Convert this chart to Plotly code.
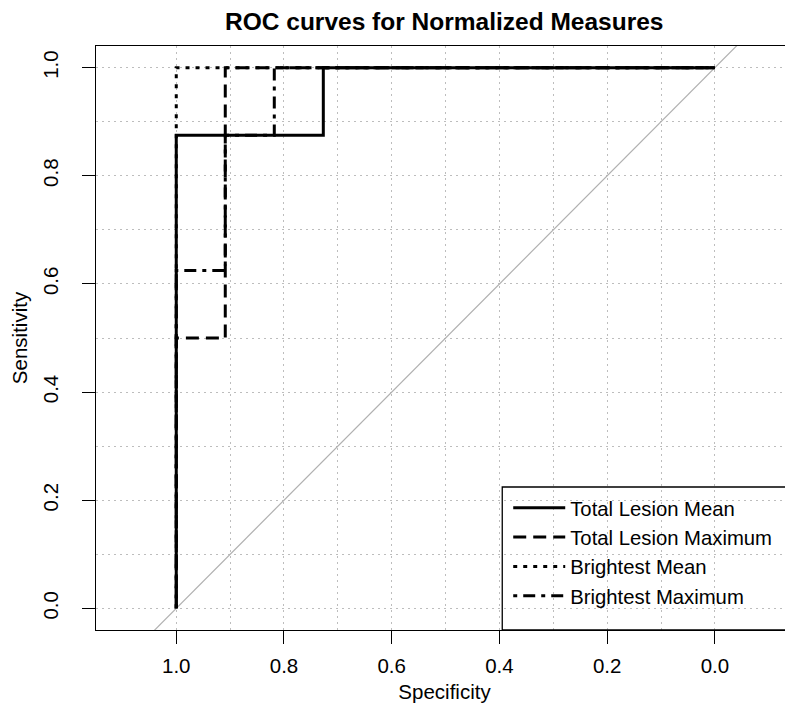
import plotly.graph_objects as go

# ROC step coordinates (specificity, sensitivity)
tlm_spec = [1.0, 1.0, 0.727, 0.727, 0.0]
tlm_sens = [0.0, 0.875, 0.875, 1.0, 1.0]

tlx_spec = [1.0, 1.0, 0.909, 0.909, 0.0]
tlx_sens = [0.0, 0.5, 0.5, 1.0, 1.0]

bm_spec = [1.0, 1.0, 0.0]
bm_sens = [0.0, 1.0, 1.0]

bx_spec = [1.0, 1.0, 0.909, 0.909, 0.818, 0.818, 0.0]
bx_sens = [0.0, 0.625, 0.625, 0.875, 0.875, 1.0, 1.0]

series_names = ["Total Lesion Mean", "Total Lesion Maximum", "Brightest Mean", "Brightest Maximum"]
tick_vals = [0.0, 0.2, 0.4, 0.6, 0.8, 1.0]
grid_minor = [0.1, 0.3, 0.5, 0.7, 0.9]

FONT = "Liberation Sans, Arial, sans-serif"

fig = go.Figure()

# chance diagonal (sensitivity = 1 - specificity)
diag_x = [1.3, -0.3]
diag_y = [1 - v for v in diag_x]
fig.add_trace(go.Scatter(x=diag_x, y=diag_y, mode="lines",
                         line=dict(color="#b0b0b0", width=1.2),
                         showlegend=False, hoverinfo="skip"))

styles = ["solid", "13px,7px", "4px,6px", "4px,6px,12px,6px"]
data = [(tlm_spec, tlm_sens), (tlx_spec, tlx_sens), (bm_spec, bm_sens), (bx_spec, bx_sens)]
for i, ((xs, ys), name, dash) in enumerate(zip(data, series_names, styles)):
    fig.add_trace(go.Scatter(x=xs, y=ys, mode="lines", name=name,
                             legendgroup="g%d" % i,
                             line=dict(color="black", width=3, dash=dash)))

axis_common = dict(
    showline=True, mirror=True, linecolor="black", linewidth=1.3,
    ticks="outside", ticklen=13, tickwidth=1.3, tickcolor="black",
    tickvals=tick_vals, tickformat=".1f",
    showgrid=True, gridcolor="#bdbdbd", gridwidth=1, griddash="2px,4px",
    minor=dict(tickvals=grid_minor, showgrid=True, gridcolor="#bdbdbd",
               gridwidth=1, griddash="2px,4px", ticks=""),
    zeroline=False,
    tickfont=dict(family=FONT, size=20.5, color="black"),
)

fig.update_xaxes(range=[1.149, -0.145], ticklabelstandoff=4,
                 title=dict(text="Specificity", font=dict(family=FONT, size=20.5, color="black"),
                            standoff=8),
                 **axis_common)
fig.update_yaxes(range=[-0.04, 1.04], tickangle=-90, ticklabelstandoff=16,
                 title=dict(text="Sensitivity", font=dict(family=FONT, size=20.5, color="black"),
                            standoff=9),
                 **axis_common)

# legend frame
fig.add_shape(type="rect", xref="paper", yref="paper",
              x0=(494 - 86) / 700, x1=1.0, y0=0.0, y1=(622 - 479) / 584,
              line=dict(color="black", width=1.3), fillcolor="rgba(0,0,0,0)", layer="above")

fig.update_layout(
    width=793, height=712,
    margin=dict(l=86, r=7, t=38, b=90),
    paper_bgcolor="white", plot_bgcolor="white",
    title=dict(text="ROC curves for Normalized Measures", x=(86 + 786.5) / 2 / 793, xanchor="center",
               y=1 - 13 / 712, yanchor="middle",
               font=dict(family=FONT, size=24.5, color="black", weight="bold")),
    legend=dict(x=(500 - 86) / 700, xanchor="left", y=(622 - 480) / 584, yanchor="top",
                bgcolor="rgba(0,0,0,0)", borderwidth=0, itemwidth=52,
                font=dict(family=FONT, size=20.3, color="black"),
                tracegroupgap=0, traceorder="normal"),
    showlegend=True,
)

fig.write_html("out.html")
